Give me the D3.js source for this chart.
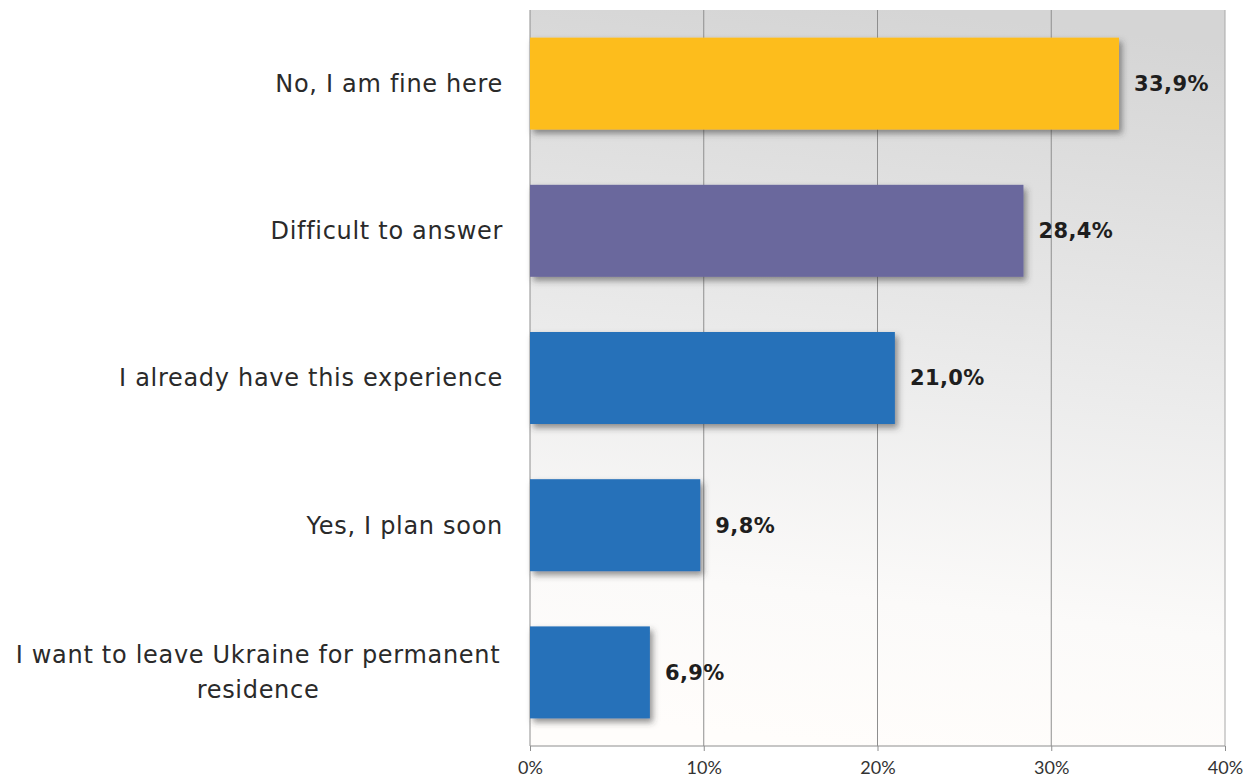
<!DOCTYPE html>
<html>
<head>
<meta charset="utf-8">
<script src="https://cdn.jsdelivr.net/npm/d3@7"></script>
<style>
  html, body { margin: 0; padding: 0; background: #ffffff; }
  svg { display: block; }
</style>
</head>
<body>
<svg id="chart" width="1254" height="783"></svg>
<script>
// Survey answers, top to bottom
const categories = [
  "No, I am fine here",
  "Difficult to answer",
  "I already have this experience",
  "Yes, I plan soon",
  "I want to leave Ukraine for permanent residence"
];
// Share of respondents, %
const values = [33.9, 28.4, 21.0, 9.8, 6.9];
const barColors = ["#FDBD1F", "#6B689D", "#2571B9", "#2571B9", "#2571B9"];
const tickValues = [0, 10, 20, 30, 40];
const tickLabels = ["0%", "10%", "20%", "30%", "40%"];

const svg = d3.select("#chart");
const margin = { left: 530, right: 29, top: 10, bottom: 37 };
const W = 1254, H = 783;
const plotW = W - margin.left - margin.right;
const plotH = H - margin.top - margin.bottom;

const x = d3.scaleLinear().domain([0, 40]).range([margin.left, margin.left + plotW]);
const y = d3.scaleBand().domain(categories).range([margin.top, margin.top + plotH])
  .paddingInner(0.375).paddingOuter(0.1875);

const defs = svg.append("defs");
const grad = defs.append("linearGradient").attr("id", "bg")
  .attr("x1", "0.45").attr("y1", "1").attr("x2", "0.55").attr("y2", "0");
grad.append("stop").attr("offset", "0").attr("stop-color", "#fffdfb");
grad.append("stop").attr("offset", "0.2").attr("stop-color", "#fbfaf9");
grad.append("stop").attr("offset", "0.5").attr("stop-color", "#ececec");
grad.append("stop").attr("offset", "1").attr("stop-color", "#d5d5d5");

const shadow = defs.append("filter").attr("id", "shadow")
  .attr("x", "-10%").attr("y", "-20%").attr("width", "130%").attr("height", "150%");
shadow.append("feDropShadow").attr("dx", 3).attr("dy", 4)
  .attr("stdDeviation", 3).attr("flood-color", "#3a3a3a").attr("flood-opacity", 0.55);

// plot background
svg.append("rect")
  .attr("x", margin.left).attr("y", margin.top)
  .attr("width", plotW).attr("height", plotH)
  .attr("fill", "url(#bg)");

// vertical gridlines
svg.append("g").selectAll("line")
  .data(tickValues.slice(1))
  .join("line")
  .attr("x1", d => x(d)).attr("x2", d => x(d))
  .attr("y1", margin.top).attr("y2", margin.top + plotH)
  .attr("stroke", d => d === 40 ? "#a8a8a8" : "#8e8e8e")
  .attr("stroke-width", 1);

// bottom axis
const xAxis = d3.axisBottom(x)
  .tickValues(tickValues)
  .tickFormat((d, i) => tickLabels[i])
  .tickSize(5)
  .tickPadding(10);
const gx = svg.append("g")
  .attr("transform", `translate(0,${margin.top + plotH})`)
  .call(xAxis);
gx.select(".domain").attr("stroke", "#8e8e8e").attr("d", `M${x(0)},0H${x(40)}`);
gx.selectAll(".tick line").attr("stroke", "#8e8e8e");
gx.selectAll(".tick text")
  .attr("fill", "#333")
  .style("font-family", "'Liberation Sans Narrow', 'Lato', sans-serif")
  .style("font-size", "18px");

// left axis line
svg.append("line")
  .attr("x1", x(0)).attr("x2", x(0))
  .attr("y1", margin.top).attr("y2", margin.top + plotH)
  .attr("stroke", "#8e8e8e");

// bars
svg.append("g").selectAll("rect")
  .data(values)
  .join("rect")
  .attr("x", x(0))
  .attr("y", (d, i) => y(categories[i]))
  .attr("width", d => x(d) - x(0))
  .attr("height", y.bandwidth())
  .attr("fill", (d, i) => barColors[i])
  .attr("filter", "url(#shadow)");

// value labels
svg.append("g").selectAll("text")
  .data(values)
  .join("text")
  .attr("x", d => x(d) + 15)
  .attr("y", (d, i) => y(categories[i]) + y.bandwidth() / 2)
  .attr("dy", "0.35em")
  .attr("fill", "#1e1e1e")
  .style("font-family", "'DejaVu Sans', sans-serif")
  .style("font-weight", "bold")
  .style("font-size", "21px")
  .style("letter-spacing", "0.4px")
  .text(d => d.toFixed(1).replace(".", ",") + "%");

// category labels, wrapped to two lines when long
const catG = svg.append("g");
categories.forEach((c, i) => {
  const lines = c.length > 35 ? ["I want to leave Ukraine for permanent", "residence"] : [c];
  const cy = y(c) + y.bandwidth() / 2;
  const lh = 35;
  const t = catG.append("text")
    .attr("text-anchor", lines.length > 1 ? "middle" : "end")
    .attr("fill", "#2a2a2a")
    .style("font-family", "'DejaVu Sans', sans-serif")
    .style("font-size", "24px")
    .style("letter-spacing", "0.7px");
  lines.forEach((ln, k) => {
    t.append("tspan")
      .attr("x", lines.length > 1 ? 258 : 503)
      .attr("y", cy + (k - (lines.length - 1) / 2) * lh)
      .attr("dy", "0.35em")
      .text(ln);
  });
});
</script>
</body>
</html>
